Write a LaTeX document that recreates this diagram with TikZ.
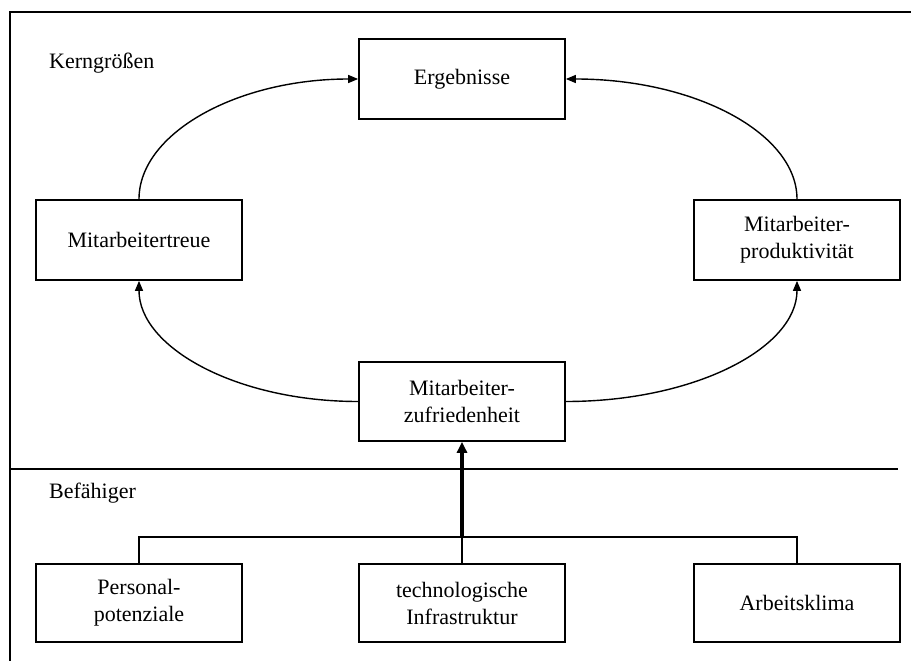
\documentclass[tikz,border=0pt]{standalone}
\usepackage{fontspec}
\setmainfont{Liberation Serif}
\usetikzlibrary{arrows.meta}
\begin{document}
\begin{tikzpicture}[x=1pt,y=-1pt,
  box/.style={draw,line width=1.7pt,minimum width=206pt,minimum height=80pt,align=center,inner sep=0pt,font=\fontsize{22}{27}\selectfont},
  lbl/.style={anchor=west,inner sep=0pt,font=\fontsize{22}{27}\selectfont},
  conn/.style={line width=1.4pt,-{Triangle[length=10pt,width=8pt]}},
  rule/.style={line width=1.7pt}
]
\useasboundingbox (0,0) rectangle (911,661);
% frame
\draw[rule] (10,661) -- (10,12) -- (911,12);
% labels
\node[lbl] (kern) at (49,63) {Kerngrößen};
\node[lbl] (bef) at (49,493) {Befähiger};
% separator
\draw[rule] (10,469) -- (898,469);
% boxes
\node[box] (erg) at (462,79) {Ergebnisse};
\node[box] (treue) at (139,240) {Mitarbeitertreue};
\node[box] (prod) at (797,240) {Mitarbeiter-\\produktivität};
\node[box,minimum height=79pt] (zuf) at (462,401.5) {Mitarbeiter-\\zufriedenheit};
\node[box,minimum height=78pt] (pers) at (139,603) {Personal-\\potenziale};
\node[box,minimum height=78pt] (tech) at (462,603) {technologische\\Infrastruktur};
\node[box,minimum height=78pt] (klima) at (797,603) {Arbeitsklima};
% arcs
\draw[conn] (treue.north) .. controls +(0,-66) and +(-121,0) .. (erg.west);
\draw[conn] (prod.north) .. controls +(0,-66) and +(129,0) .. (erg.east);
\draw[conn] (zuf.west) .. controls +(-121,0) and +(0,67) .. (treue.south);
\draw[conn] (zuf.east) .. controls +(129,0) and +(0,67) .. (prod.south);
% tree
\coordinate (j) at (462,537);
\draw[line width=1.4pt] (pers.north) -- (pers.north |- j) -- (klima.north |- j) -- (klima.north);
\draw[line width=1.4pt] (j) -- (tech.north);
\draw[line width=3.3pt,-{Triangle[length=11pt,width=10pt]}] (j) -- (zuf.south);
\end{tikzpicture}
\end{document}
